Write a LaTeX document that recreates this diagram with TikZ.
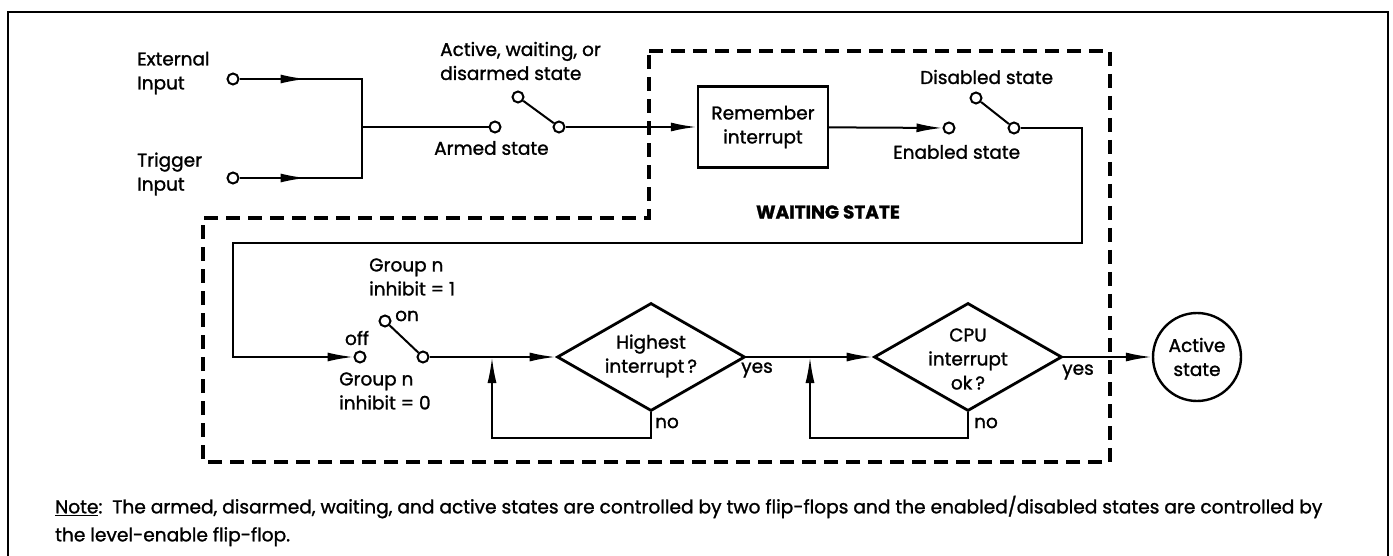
\documentclass[tikz,border=0pt]{standalone}
\usepackage{fontspec}
\setmainfont{Poppins}[FakeBold=1.3]
\usetikzlibrary{shapes.geometric,arrows.meta,decorations.markings}

\tikzset{
  wire/.style={line width=2pt},
  tipend/.style={-{Latex[length=26pt,width=9pt]}},
  midtip/.style={postaction={decorate},
    decoration={markings,mark=at position #1 with {\arrow{Latex[length=26pt,width=9pt]}}}},
  term/.style={circle,draw,fill=white,line width=2pt,minimum size=11pt,inner sep=0pt},
  lbl/.style={inner sep=0pt,align=left},
  decision/.style={diamond,draw,line width=2.8pt,minimum width=188pt,minimum height=108pt,inner sep=0pt},
  waitbox/.style={line width=4pt,dash pattern=on 14pt off 8pt},
  frame/.style={line width=2.5pt},
}

\begin{document}
\begin{tikzpicture}[x=1pt,y=-1pt,font=\fontsize{18.5}{24}\selectfont]
\useasboundingbox (0,0) rectangle (1393,556);

% outer frame (open at the bottom)
\draw[frame] (8,556) -- (8,12) -- (1388,12) -- (1388,556);

% waiting-state boundary
\draw[waitbox] (649,51) -- (1110,51) -- (1110,462) -- (203,462) -- (203,218) -- (649,218) -- cycle;

% terminals and blocks
\node[term] (ext) at (233,79) {};
\node[term] (trg) at (233,178) {};
\coordinate (jn) at (362,127);
\node[term] (arm) at (495,127) {};
\node[term] (s1a) at (518,97) {};
\node[term] (s1b) at (559,127) {};
\node[draw,line width=2.4pt,minimum width=130pt,minimum height=81pt,align=center] (rem) at (763,127) {Remember\\interrupt};
\node[term] (ena) at (949,128) {};
\node[term] (s2a) at (976,98) {};
\node[term] (s2b) at (1014,128) {};
\coordinate (c1) at (1082,128);
\coordinate (c2) at (1082,243);
\coordinate (c3) at (233,243);
\coordinate (c4) at (233,357);
\node[term] (off) at (360,357) {};
\node[term] (on) at (385,321) {};
\node[term] (s3b) at (423,357) {};
\node[decision] (hi) at (651,357) {};
\node[decision] (cpu) at (968,357) {};
\node[circle,draw,line width=2.4pt,minimum size=88pt,align=center,inner sep=0pt] (act) at (1197,357) {Active\\state};
\coordinate (l1) at (492,357);
\coordinate (l1b) at (492,438);
\coordinate (l2) at (810,357);
\coordinate (l2b) at (810,438);

% connectors
\draw[wire,midtip=67pt] (ext) -| (jn);
\draw[wire,midtip=67pt] (trg) -| (jn);
\draw[wire] (jn) -- (arm);
\draw[wire] (s1a) -- (s1b);
\draw[wire,tipend] (s1b) -- (rem);
\draw[wire,tipend] (rem) -- (ena);
\draw[wire] (s2a) -- (s2b);
\draw[wire,tipend] (s2b) -- (c1) -- (c2) -- (c3) -- (c4) -- (off);
\draw[wire] (on) -- (s3b);
\draw[wire,tipend] (s3b) -- (hi);
\draw[wire,tipend] (hi.south) |- (l1b) -- (l1);
\draw[wire,tipend] (hi) -- (cpu);
\draw[wire,tipend] (cpu.south) |- (l2b) -- (l2);
\draw[wire,tipend] (cpu) -- (act);

% labels
\node[lbl,anchor=west] (lext) at (137,73) {External\\Input};
\node[lbl,anchor=west] (ltrg) at (137,174) {Trigger\\Input};
\node[lbl,anchor=west] (lawd) at (440,61) {Active, waiting, or\\disarmed state};
\node[lbl,anchor=west] (larm) at (434,148) {Armed state};
\node[lbl,anchor=west] (ldis) at (920,77) {Disabled state};
\node[lbl,anchor=west] (lena) at (893,152) {Enabled state};
\node[inner sep=0pt] (lwait) at (828,212) {\bfseries WAITING STATE};
\node[lbl,anchor=west] (lg1) at (369,277) {Group n\\inhibit = 1};
\node[lbl,anchor=west] (lon) at (395,316) {on};
\node[lbl] (loff) at (357,338) {off};
\node[lbl,anchor=west] (lg0) at (339,391) {Group n\\inhibit = 0};
\node[align=center,inner sep=0pt] (thi) at (651,356) {Highest\\interrupt\,?};
\node[inner sep=0pt] (yes1) at (757,370) {yes};
\node[inner sep=0pt] (no1) at (667,423) {no};
\node[align=center,inner sep=0pt,font=\fontsize{18.5}{24}\selectfont] (tcpu) at (968,359) {CPU\\interrupt\\ok\,?};
\node[inner sep=0pt] (yes2) at (1078,372) {yes};
\node[inner sep=0pt] (no2) at (986,423) {no};

% footnote
\node[lbl,anchor=west,font=\fontsize{18.6}{28}\selectfont] (note) at (55,521)
  {\underline{Note}:\ \ The armed, disarmed, waiting, and active states are controlled by two flip-flops and the enabled/disabled states are controlled by\\the level-enable flip-flop.};
\end{tikzpicture}
\end{document}
